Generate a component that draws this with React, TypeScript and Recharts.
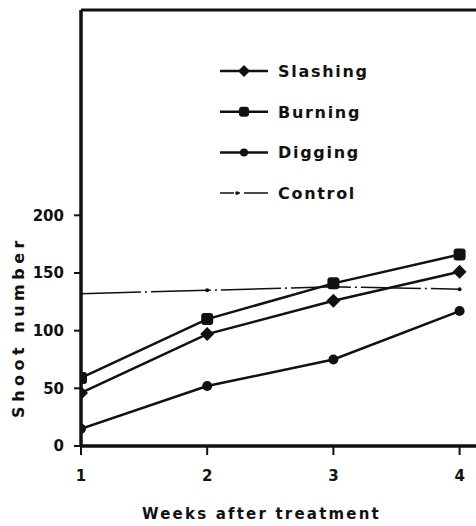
import { Line, LineChart, XAxis, YAxis } from "recharts";

const weeks = [1, 2, 3, 4];
const slashing = [46, 97, 126, 151];
const burning = [59, 110, 141, 166];
const digging = [15, 52, 75, 117];
const control = [132, 135, 138, 136];
const yTicks = [0, 50, 100, 150, 200];

const data = weeks.map((week, i) => ({
  week,
  slashing: slashing[i],
  burning: burning[i],
  digging: digging[i],
  control: control[i],
}));

const FONT = "'DejaVu Sans', sans-serif";
const INK = "#111";

function Diamond({ cx, cy, r = 7 }: { cx?: number; cy?: number; r?: number }) {
  if (cx == null || cy == null) return null;
  return (
    <path
      d={`M${cx},${cy - r} L${cx + r},${cy} L${cx},${cy + r} L${cx - r},${cy} Z`}
      fill={INK}
    />
  );
}

function Square({ cx, cy, r = 6 }: { cx?: number; cy?: number; r?: number }) {
  if (cx == null || cy == null) return null;
  return <rect x={cx - r} y={cy - r} width={r * 2} height={r * 2} rx={3} fill={INK} />;
}

function Dot({ cx, cy, r = 5 }: { cx?: number; cy?: number; r?: number }) {
  if (cx == null || cy == null) return null;
  return <circle cx={cx} cy={cy} r={r} fill={INK} />;
}

const legendItems = [
  { label: "Slashing", marker: "diamond" },
  { label: "Burning", marker: "square" },
  { label: "Digging", marker: "dot" },
  { label: "Control", marker: "control" },
];

function ChartLegend() {
  return (
    <svg width={200} height={150}>
      {legendItems.map((item, i) => {
        const y = 10 + i * 40.7;
        const dashed = item.marker === "control";
        return (
          <g key={item.label}>
            <line
              x1={2}
              x2={50}
              y1={y}
              y2={y}
              stroke={INK}
              strokeWidth={dashed ? 1.5 : 2.5}
              strokeDasharray={dashed ? "14 4 2 4 40" : undefined}
            />
            {item.marker === "diamond" && <Diamond cx={26} cy={y} r={6} />}
            {item.marker === "square" && <Square cx={26} cy={y} r={5} />}
            {item.marker === "dot" && <Dot cx={26} cy={y} r={4} />}
            {item.marker === "control" && <Dot cx={19} cy={y} r={1.8} />}
            <text
              x={60}
              y={y + 6}
              fontFamily={FONT}
              fontSize={16}
              fontWeight="bold"
              letterSpacing={1.7}
              fill={INK}
            >
              {item.label}
            </text>
          </g>
        );
      })}
    </svg>
  );
}

export default function App() {
  return (
    <div style={{ position: "absolute", left: 0, top: 0, width: 476, height: 526, overflow: "hidden", background: "#fff" }}>
      <LineChart
        width={476}
        height={526}
        data={data}
        margin={{ top: 9, right: 0, left: 0, bottom: 0 }}
      >
        <XAxis
          xAxisId="top"
          orientation="top"
          dataKey="week"
          type="number"
          domain={[1, 4.13]}
          allowDataOverflow
          height={1}
          tick={false}
          tickLine={false}
          axisLine={{ stroke: INK, strokeWidth: 3 }}
        />
        <XAxis
          dataKey="week"
          type="number"
          domain={[1, 4.13]}
          allowDataOverflow
          ticks={weeks}
          height={80}
          tickSize={9}
          tickMargin={15}
          axisLine={{ stroke: INK, strokeWidth: 3.5 }}
          tickLine={{ stroke: INK, strokeWidth: 2 }}
          tick={{ fill: INK, fontSize: 15, fontFamily: FONT, fontWeight: "bold" }}
          label={{
            value: "Weeks after treatment",
            position: "insideBottom",
            offset: 7,
            dx: -17,
            fill: INK,
            fontSize: 15,
            fontFamily: FONT,
            fontWeight: "bold",
            letterSpacing: 2.2,
          }}
        />
        <YAxis
          type="number"
          domain={[0, 378]}
          allowDataOverflow
          ticks={yTicks}
          width={81}
          tickSize={7}
          tickMargin={10}
          axisLine={{ stroke: INK, strokeWidth: 3.5 }}
          tickLine={{ stroke: INK, strokeWidth: 2 }}
          tick={{ fill: INK, fontSize: 15, fontFamily: FONT, fontWeight: "bold" }}
          label={{
            content: () => (
              <text
                x={24}
                y={327}
                transform="rotate(-90 24 327)"
                textAnchor="middle"
                fill={INK}
                fontSize={16}
                fontFamily={FONT}
                fontWeight="bold"
                letterSpacing={4.5}
              >
                Shoot number
              </text>
            ),
          }}
        />
        <Line
          dataKey="control"
          stroke={INK}
          strokeWidth={1.5}
          strokeDasharray="60 4 2 4"
          dot={<Dot r={2} />}
          isAnimationActive={false}
        />
        <Line
          dataKey="digging"
          stroke={INK}
          strokeWidth={2.5}
          dot={<Dot r={5} />}
          isAnimationActive={false}
        />
        <Line
          dataKey="slashing"
          stroke={INK}
          strokeWidth={2.5}
          dot={<Diamond r={7} />}
          isAnimationActive={false}
        />
        <Line
          dataKey="burning"
          stroke={INK}
          strokeWidth={2.5}
          dot={<Square r={6} />}
          isAnimationActive={false}
        />
      </LineChart>
      <div style={{ position: "absolute", left: 218, top: 61 }}>
        <ChartLegend />
      </div>
    </div>
  );
}
